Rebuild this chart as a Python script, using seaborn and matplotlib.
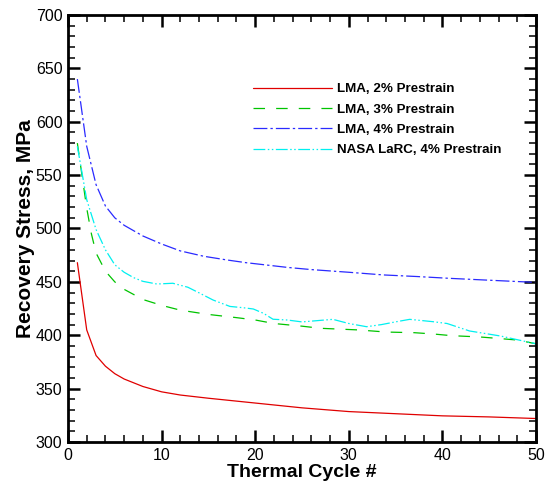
import matplotlib
matplotlib.use("Agg")
import matplotlib.pyplot as plt
import seaborn as sns
import pandas as pd
from matplotlib.ticker import MultipleLocator

# ---- data ----
red_x = [1, 2, 3, 4, 5, 6, 8, 10, 12, 15, 20, 25, 30, 35, 40, 45, 50]
red_y = [468, 405, 381, 371, 364, 359, 352, 347, 344, 341, 336.5, 332, 328.5, 326.5, 324.5, 323.5, 322]

green_x = [1, 2, 2.5, 3, 4, 5, 6, 8, 10, 12, 15, 18, 20, 22, 25, 27, 31, 34, 37, 39, 41, 44, 46, 48, 50]
green_y = [580, 519, 495, 477, 460, 450, 443, 433.5, 428, 423.5, 419.5, 416.5, 414.3, 411, 408.5,
           406.5, 405, 403, 402.4, 401.2, 399.6, 398.4, 397, 395.5, 392]

blue_x = [1, 2, 3, 4, 5, 6, 8, 10, 12, 14.5, 17, 19, 21, 23.5, 26, 30, 33.7, 37.3, 40.8, 44.4, 50]
blue_y = [640, 577, 541, 521, 510, 503, 493, 485.5, 479, 474, 470.5, 468, 466, 463.5, 461.5, 459,
          456.5, 455, 453.3, 451.8, 449.5]

cyan_x = [1, 2, 3, 4, 5, 6, 7, 8, 9.5, 11.2, 12.8, 14.1, 15.5, 17.3, 18.7, 19.8, 20.9, 21.9,
          23.4, 25, 28.3, 30, 31.9, 33.5, 35.1, 36.5, 39, 40.5, 42.9, 46.2, 50]
cyan_y = [577, 527, 499, 480, 466, 459, 454, 450.5, 448, 448.7, 445, 439.3, 433, 427, 425.8, 424.6,
          420.5, 415, 414.3, 412.5, 414.9, 411, 408, 410, 412.7, 414.9, 412.7, 411, 404, 399.3, 392]

labels = ["LMA, 2% Prestrain", "LMA, 3% Prestrain", "LMA, 4% Prestrain", "NASA LaRC, 4% Prestrain"]

x_ticks = [0, 10, 20, 30, 40, 50]
y_ticks = [300, 350, 400, 450, 500, 550, 600, 650, 700]

# ---- style ----
sns.set_theme(style="ticks")
plt.rcParams["font.family"] = ["Liberation Sans", "DejaVu Sans"]
plt.rcParams["lines.scale_dashes"] = False
plt.rcParams["text.color"] = "black"
plt.rcParams["axes.labelcolor"] = "black"
plt.rcParams["xtick.color"] = "black"
plt.rcParams["ytick.color"] = "black"
plt.rcParams["xtick.labelcolor"] = "black"
plt.rcParams["ytick.labelcolor"] = "black"

fig = plt.figure(figsize=(5.52, 4.82), dpi=100)
ax = fig.add_axes([68 / 552, 1 - 442 / 482, 468 / 552, 427 / 482])

series = [
    (red_x, red_y, labels[0], "#e00000", "-"),
    (green_x, green_y, labels[1], "#00c400", (0, (8.3, 8))),
    (blue_x, blue_y, labels[2], "#2a2aff", (0, (10, 2.2, 1.7, 2.2))),
    (cyan_x, cyan_y, labels[3], "#00f0f0", (0, (8.5, 1.8, 1.1, 1.8, 1.1, 1.8))),
]

for xs, ys, lab, col, ls in series:
    df = pd.DataFrame({"cycle": xs, "stress": ys})
    sns.lineplot(data=df, x="cycle", y="stress", ax=ax, color=col, label=lab,
                 linewidth=0.9, linestyle=ls, sort=False)

ax.set_xlim(0, 50)
ax.set_ylim(300, 700)
ax.set_xticks(x_ticks)
ax.set_yticks(y_ticks)
ax.xaxis.set_minor_locator(MultipleLocator(2))
ax.yaxis.set_minor_locator(MultipleLocator(10))

for s in ax.spines.values():
    s.set_visible(True)
    s.set_linewidth(2.0)
    s.set_color("black")

ax.tick_params(which="both", direction="in", top=True, right=True, colors="black")
ax.tick_params(which="major", length=8.5, width=1.8, labelsize=11.5, pad=4)
ax.tick_params(which="minor", length=5, width=1.1)

ax.set_xlabel("Thermal Cycle #", fontsize=14, fontweight="bold", labelpad=1, color="black")
ax.set_ylabel("Recovery Stress, MPa", fontsize=15, fontweight="bold", labelpad=0.5, color="black")

leg = ax.legend(loc="upper left", bbox_to_anchor=(0.395, 0.841), frameon=False,
                prop={"size": 9.6, "weight": "bold"}, handlelength=5.9, handletextpad=0.4,
                labelspacing=0.6, borderpad=0, borderaxespad=0)
for t in leg.get_texts():
    t.set_color("black")

fig.savefig("out.png", dpi=100)
